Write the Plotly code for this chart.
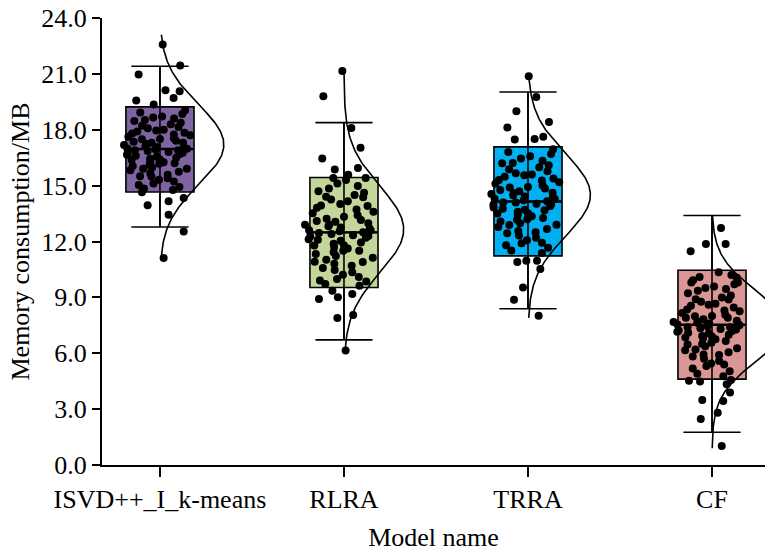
import numpy as np
import plotly.graph_objects as go

categories = ["ISVD++_I_k-means", "RLRA", "TRRA", "CF"]
colors = ["#8064A2", "#C3D69B", "#00B0F0", "#D99694"]

# box statistics
q1 = [14.66, 9.53, 11.23, 4.61]
median = [16.97, 12.49, 14.15, 7.53]
q3 = [19.23, 15.44, 17.08, 10.46]
lower_whisker = [12.78, 6.72, 8.39, 1.76]
upper_whisker = [21.41, 18.38, 20.03, 13.40]

# fitted normal curves (mean, sd, extent)
curve_mu = [17.2, 12.65, 14.5, 7.46]
curve_sd = [2.15, 2.3, 2.2, 1.9]
curve_lo = [11.1, 6.15, 7.9, 0.9]
curve_hi = [23.1, 21.15, 20.9, 13.4]

# points inside the boxes (y values)
isvd_inner = [19.05, 18.92, 18.85, 18.71, 18.66, 18.52, 18.47, 18.38, 18.30, 18.22, 18.15, 18.08,
              17.96, 17.90, 17.84, 17.75, 17.70, 17.62, 17.55, 17.49, 17.41, 17.36, 17.30, 17.24,
              17.18, 17.12, 17.08, 17.02, 16.98, 16.94, 16.90, 16.86, 16.81, 16.77, 16.72, 16.66,
              16.61, 16.55, 16.50, 16.44, 16.39, 16.31, 16.25, 16.18, 16.11, 16.05, 15.97, 15.90,
              15.82, 15.74, 15.66, 15.58, 15.49, 15.40, 15.31, 15.22, 15.12, 15.03, 14.93, 14.84,
              14.76, 18.0, 17.5, 17.0, 16.7, 16.2, 15.5, 18.6, 17.8, 16.9, 16.4, 15.9, 17.3]
rlra_inner = [15.30, 15.12, 14.98, 14.85, 14.70, 14.62, 14.50, 14.38, 14.25, 14.16, 14.02, 13.93,
              13.81, 13.72, 13.60, 13.52, 13.41, 13.33, 13.22, 13.15, 13.06, 12.98, 12.90, 12.82,
              12.75, 12.68, 12.61, 12.55, 12.50, 12.45, 12.40, 12.33, 12.27, 12.20, 12.12, 12.04,
              11.95, 11.88, 11.79, 11.70, 11.62, 11.51, 11.42, 11.33, 11.22, 11.13, 11.02, 10.91,
              10.80, 10.70, 10.58, 10.47, 10.35, 10.22, 10.10, 9.98, 9.85, 9.72, 9.62, 13.9, 12.6,
              12.3, 11.8, 13.1, 10.9, 14.4, 12.9, 11.5, 9.9, 12.1]
trra_inner = [16.95, 16.80, 16.70, 16.58, 16.45, 16.33, 16.22, 16.10, 15.98, 15.88, 15.77, 15.66,
              15.56, 15.47, 15.38, 15.28, 15.18, 15.10, 15.01, 14.93, 14.85, 14.77, 14.70, 14.62,
              14.55, 14.48, 14.41, 14.35, 14.28, 14.22, 14.16, 14.10, 14.03, 13.97, 13.90, 13.83,
              13.76, 13.68, 13.60, 13.52, 13.44, 13.35, 13.26, 13.17, 13.08, 12.98, 12.88, 12.78,
              12.67, 12.56, 12.44, 12.32, 12.20, 12.07, 11.93, 11.80, 11.66, 11.52, 11.38, 14.6,
              14.0, 13.7, 15.3, 12.9, 14.3, 13.5, 16.2, 11.9, 14.9, 13.2, 15.6, 12.5, 14.1]
cf_inner = [10.35, 10.20, 10.05, 9.92, 9.80, 9.70, 9.58, 9.45, 9.35, 9.22, 9.10, 9.00, 8.88, 8.77,
            8.66, 8.55, 8.45, 8.35, 8.25, 8.16, 8.07, 7.98, 7.90, 7.82, 7.75, 7.68, 7.62, 7.56,
            7.50, 7.45, 7.40, 7.34, 7.28, 7.22, 7.15, 7.08, 7.00, 6.92, 6.84, 6.75, 6.66, 6.57,
            6.47, 6.37, 6.27, 6.16, 6.05, 5.93, 5.82, 5.70, 5.58, 5.45, 5.32, 5.18, 5.04, 4.90,
            4.76, 7.6, 7.3, 7.7, 7.1, 8.0, 6.9, 7.4, 8.3, 6.5, 9.5, 5.9, 10.1, 7.55, 7.2, 6.8,
            8.6, 7.9, 6.2, 9.8, 5.4, 8.9]

# points outside the boxes (y values and horizontal jitter)
isvd_outer_y = [22.58, 21.45, 20.97, 20.12, 20.07, 19.71, 19.57, 19.35, 14.64, 13.94, 14.16, 14.34,
                13.44, 12.54, 11.11]
isvd_outer_dx = [0.015, 0.11, -0.116, 0.03, 0.107, 0.074, -0.129, -0.034, -0.098, -0.067, 0.047,
                 0.129, 0.047, 0.129, 0.02]
rlra_outer_y = [21.15, 19.80, 18.10, 17.03, 16.45, 15.86, 15.95, 15.59, 15.41, 15.41, 9.35, 9.01,
                9.18, 8.91, 7.89, 8.06, 6.15]
rlra_outer_dx = [-0.009, -0.112, 0.04, 0.09, -0.118, -0.05, 0.076, 0.023, -0.058, 0.118, -0.063,
                 -0.033, 0.045, -0.136, -0.036, 0.05, 0.009]
trra_outer_y = [20.87, 19.76, 18.99, 18.42, 18.12, 17.47, 17.51, 17.62, 10.90, 10.97, 10.97, 10.52,
                9.53, 8.87, 8.01]
trra_outer_dx = [0.004, 0.045, -0.063, 0.114, -0.112, -0.072, 0.036, 0.083, -0.058, -0.009, 0.049,
                 0.067, -0.027, -0.076, 0.058]
cf_outer_y = [12.72, 11.86, 11.86, 11.47, 4.52, 4.48, 4.34, 4.57, 3.89, 3.44, 3.49, 2.81, 2.47, 1.02]
cf_outer_dx = [0.049, -0.033, 0.074, -0.116, -0.125, -0.065, 0.08, 0.103, 0.098, 0.061, -0.053,
               0.031, -0.061, 0.053]

inner_sets = [isvd_inner, rlra_inner, trra_inner, cf_inner]
outer_y_sets = [isvd_outer_y, rlra_outer_y, trra_outer_y, cf_outer_y]
outer_dx_sets = [isvd_outer_dx, rlra_outer_dx, trra_outer_dx, cf_outer_dx]

BOX_W = 0.37
POINT_BAND_W = 0.46
CURVE_SCALE = 1.87
DOT = 8
FONT = "Liberation Serif, Times New Roman, serif"

fig = go.Figure()
for i in range(len(categories)):
    # box
    fig.add_trace(go.Box(
        x=[i], q1=[q1[i]], median=[median[i]], q3=[q3[i]],
        lowerfence=[lower_whisker[i]], upperfence=[upper_whisker[i]],
        width=BOX_W, fillcolor=colors[i], line=dict(color="black", width=1.6),
        whiskerwidth=0.84, boxpoints=False, showlegend=False, hoverinfo="skip"))
    # whisker line through the box
    fig.add_trace(go.Scatter(
        x=[i, i], y=[lower_whisker[i], upper_whisker[i]], mode="lines",
        line=dict(color="black", width=1.6), showlegend=False, hoverinfo="skip"))
    # normal curve
    yy = np.linspace(curve_lo[i], curve_hi[i], 200)
    pdf = np.exp(-(yy - curve_mu[i]) ** 2 / (2 * curve_sd[i] ** 2)) / (curve_sd[i] * np.sqrt(2 * np.pi))
    fig.add_trace(go.Scatter(
        x=i + CURVE_SCALE * pdf, y=yy, mode="lines",
        line=dict(color="black", width=1.6), showlegend=False, hoverinfo="skip"))
    # jittered points inside the box
    fig.add_trace(go.Box(
        y=inner_sets[i], x=[i] * len(inner_sets[i]), width=POINT_BAND_W,
        boxpoints="all", jitter=1.0, pointpos=0,
        fillcolor="rgba(0,0,0,0)", line=dict(color="rgba(0,0,0,0)", width=0),
        marker=dict(color="black", size=DOT), showlegend=False, hoverinfo="skip"))
    # points outside the box
    fig.add_trace(go.Scatter(
        x=[i + d for d in outer_dx_sets[i]], y=outer_y_sets[i], mode="markers",
        marker=dict(color="black", size=DOT), showlegend=False, hoverinfo="skip"))
    # median line
    fig.add_trace(go.Scatter(
        x=[i - BOX_W / 2, i + BOX_W / 2], y=[median[i], median[i]], mode="lines",
        line=dict(color="black", width=2.4), showlegend=False, hoverinfo="skip"))

fig.update_layout(
    width=765, height=552,
    margin=dict(l=102, r=0, t=18, b=87),
    paper_bgcolor="white", plot_bgcolor="white",
    boxmode="overlay",
    font=dict(family=FONT, size=26, color="black"),
    xaxis=dict(
        range=[-0.315, 3.288], tickmode="array", tickvals=list(range(len(categories))),
        ticktext=categories, showline=True, linecolor="black", linewidth=2,
        ticks="outside", ticklen=10, tickwidth=2, tickcolor="black",
        showgrid=False, zeroline=False,
        title=dict(text="Model name", font=dict(family=FONT, size=26))),
    yaxis=dict(
        range=[0, 24], tickmode="linear", tick0=0, dtick=3, tickformat=".1f",
        showline=True, linecolor="black", linewidth=2,
        ticks="outside", ticklen=8, tickwidth=2, tickcolor="black",
        showgrid=False, zeroline=False,
        title=dict(text="Memory consumption/MB", standoff=4,
                   font=dict(family=FONT, size=26))),
)

fig.write_html("out.html")
